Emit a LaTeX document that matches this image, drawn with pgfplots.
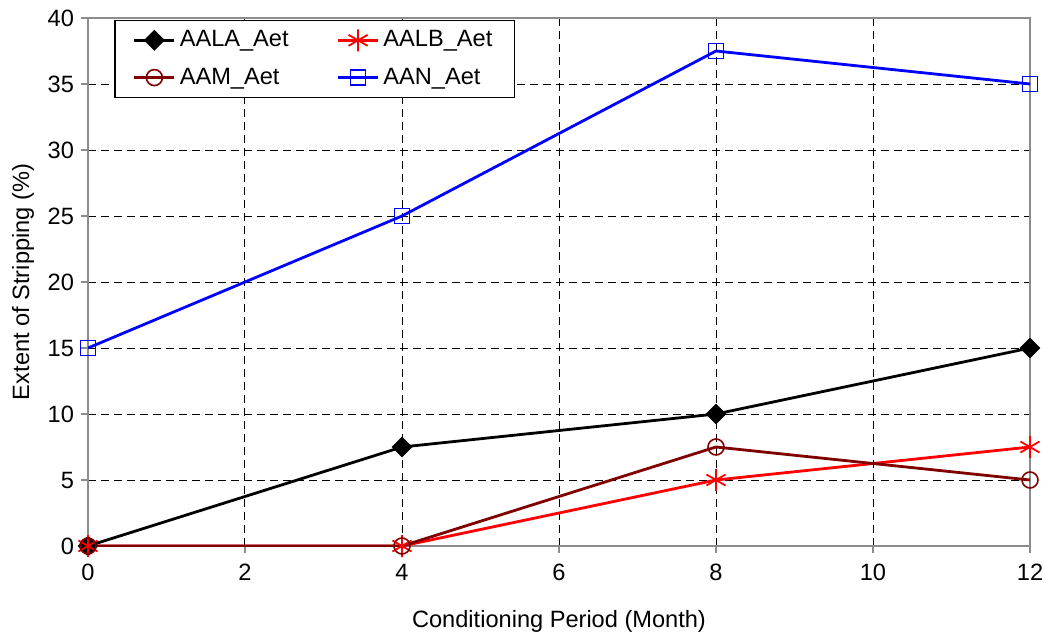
\documentclass[border=0pt]{standalone}
\usepackage{fontspec}
\setmainfont{Liberation Sans}
\usepackage{pgfplots}
\pgfplotsset{compat=1.18}
\definecolor{brn}{RGB}{128,0,0}
\definecolor{axgray}{RGB}{140,140,140}
\begin{document}
\begin{tikzpicture}
\path[use as bounding box] (-44pt,-46pt) rectangle (478.5pt,273pt);
\begin{axis}[
  scale only axis, width=471pt, height=264pt,
  xmin=0, xmax=12, ymin=0, ymax=40,
  xtick={0,2,...,12}, ytick={0,5,...,40},
  axis line style={axgray, line width=0.8pt},
  tick style={axgray, line width=0.8pt},
  tick align=outside, major tick length=3.5pt,
  xtick pos=bottom, ytick pos=left,
  grid=major,
  major grid style={black, dashed, line width=0.5pt, dash pattern=on 4pt off 2.5pt},
  font=\fontsize{11.8pt}{14pt}\selectfont,
  /pgf/number format/assume math mode=true,
  xticklabel style={yshift=-2pt},
  xlabel={Conditioning Period (Month)},
  ylabel={Extent of Stripping (\%)},
  xlabel style={yshift=-8pt},
  ylabel style={yshift=0pt},
  legend columns=2,
  legend style={at={(rel axis cs:0.028,0.996)}, anchor=north west,
    draw=black, line width=0.6pt, font=\fontsize{11.8pt}{14pt}\selectfont,
    /tikz/every even column/.append style={column sep=22pt},
    row sep=5pt, inner xsep=9pt, inner ysep=3pt},
  legend cell align=left,
  legend image code/.code={\draw[mark repeat=2,mark phase=2] plot coordinates {(0pt,0pt)(10pt,0pt)(20pt,0pt)};},
]
\addplot[black, line width=1.4pt, mark=square*, mark size=3pt, mark options={solid, fill=black, rotate=45}]
  coordinates {(0,0) (4,7.5) (8,10) (12,15)};
\addlegendentry{AALA\_Aet}
\addplot[red, line width=1.4pt, mark=asterisk, mark size=5.5pt, mark options={solid, line width=0.9pt}]
  coordinates {(0,0) (4,0) (8,5) (12,7.5)};
\addlegendentry{AALB\_Aet}
\addplot[brn, line width=1.4pt, mark=o, mark size=4pt, mark options={solid, line width=0.8pt}]
  coordinates {(0,0) (4,0) (8,7.5) (12,5)};
\addlegendentry{AAM\_Aet}
\addplot[blue, line width=1.4pt, mark=square, mark size=3.8pt, mark options={solid, line width=0.8pt}]
  coordinates {(0,15) (4,25) (8,37.5) (12,35)};
\addlegendentry{AAN\_Aet}
\end{axis}
\end{tikzpicture}
\end{document}
